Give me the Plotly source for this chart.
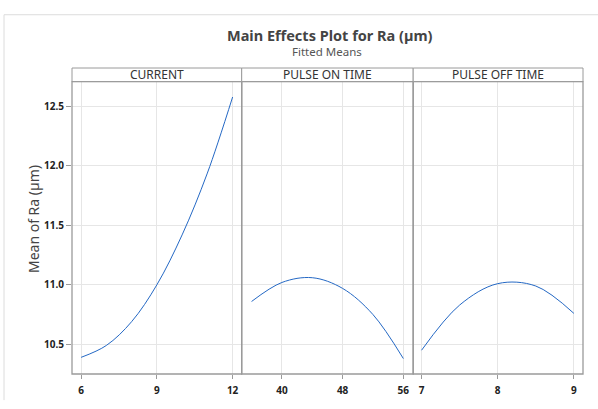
import plotly.graph_objects as go

# ---- data ----
current_x = [6, 7, 8, 9, 10, 11, 12]
current_y = [10.39, 10.49, 10.69, 11.00, 11.42, 11.94, 12.58]

pon_x = [36, 40, 44, 48, 52, 56]
pon_y = [10.86, 11.02, 11.06, 10.97, 10.75, 10.38]

poff_x = [7, 7.5, 8, 8.5, 9]
poff_y = [10.45, 10.83, 11.01, 10.99, 10.76]

panel_titles = ["CURRENT", "PULSE ON TIME", "PULSE OFF TIME"]
current_ticks = [6, 9, 12]
pon_ticks = [40, 48, 56]
poff_ticks = [7, 8, 9]
y_ticks = [10.5, 11.0, 11.5, 12.0, 12.5]

# ---- geometry ----
W, H = 598, 409
ML, MR, MT, MB = 72, 15, 68, 25
PW = W - ML - MR
PH = H - MT - MB
ytop = (PH - 14) / PH
doms = [[0, 0.3321], [0.3321, 0.6677], [0.6677, 1.0]]

LINE = "#2468c4"
GRID = "#e6e6e6"
BORDER = "#9a9a9a"
FONT = "Noto Sans"

def py(pix):
    return (PH - (pix - MT)) / PH

def px(pix):
    return (pix - ML) / PW

fig = go.Figure()
series = [(current_x, current_y), (pon_x, pon_y), (poff_x, poff_y)]
for i, (xs, ys) in enumerate(series):
    sfx = "" if i == 0 else str(i + 1)
    fig.add_trace(go.Scatter(x=xs, y=ys, mode="lines",
                             line=dict(color=LINE, width=1, shape="spline", smoothing=1.0),
                             xaxis="x" + sfx, yaxis="y" + sfx, showlegend=False,
                             hoverinfo="skip"))

TICKFONT = dict(family=FONT, size=10, color="#222", weight="bold")

def xax(dom, rng, ticks, anchor):
    return dict(domain=dom, range=rng, tickvals=ticks, ticktext=[str(t) for t in ticks],
                showgrid=True, gridcolor=GRID, gridwidth=1, zeroline=False,
                showline=False, ticks="outside", ticklen=4, tickcolor=BORDER,
                ticklabelstandoff=3,
                tickfont=TICKFONT, anchor=anchor, fixedrange=True)

yrange = [10.25, 12.71]
def yax(anchor, labels):
    d = dict(domain=[0, ytop], range=yrange, tickvals=y_ticks,
             ticktext=["%.1f" % v for v in y_ticks],
             showgrid=True, gridcolor=GRID, gridwidth=1, zeroline=False,
             showline=False, anchor=anchor, showticklabels=labels,
             ticks="outside" if labels else "", ticklen=5, tickcolor=BORDER,
             tickfont=TICKFONT, fixedrange=True)
    if anchor != "x":
        d["matches"] = "y"
    return d

fig.update_layout(
    width=W, height=H, margin=dict(l=ML, r=MR, t=MT, b=MB),
    paper_bgcolor="white", plot_bgcolor="white",
    xaxis=xax(doms[0], [5.64, 12.36], current_ticks, "y"),
    xaxis2=xax(doms[1], [34.7, 57.3], pon_ticks, "y2"),
    xaxis3=xax(doms[2], [6.89, 9.12], poff_ticks, "y3"),
    yaxis=yax("x", True),
    yaxis2=yax("x2", False),
    yaxis3=yax("x3", False),
)

shapes = []
# outer light frame (top and left edges visible in the reference)
shapes.append(dict(type="line", xref="paper", yref="paper",
                   x0=px(4), x1=px(W + 2), y0=py(13), y1=py(13),
                   line=dict(color="#dcdcdc", width=1), layer="below"))
shapes.append(dict(type="line", xref="paper", yref="paper",
                   x0=px(4), x1=px(4), y0=py(13), y1=py(H + 2),
                   line=dict(color="#dcdcdc", width=1), layer="below"))
annotations = []
for i, d in enumerate(doms):
    shapes.append(dict(type="rect", xref="paper", yref="paper", x0=d[0], x1=d[1], y0=0, y1=ytop,
                       line=dict(color=BORDER, width=1.3), fillcolor="rgba(0,0,0,0)"))
    shapes.append(dict(type="rect", xref="paper", yref="paper", x0=d[0], x1=d[1], y0=ytop, y1=1,
                       line=dict(color=BORDER, width=1), fillcolor="white"))
    annotations.append(dict(text=panel_titles[i], xref="paper", yref="paper",
                            x=(d[0] + d[1]) / 2, y=(1 + ytop) / 2, showarrow=False,
                            xanchor="center", yanchor="middle",
                            font=dict(family=FONT, size=12, color="#333")))

annotations.append(dict(text="Main Effects Plot for Ra (µm)", xref="paper", yref="paper",
                        x=px(330), y=py(34), showarrow=False,
                        xanchor="center", yanchor="middle",
                        font=dict(family=FONT, size=14.5, color="#444", weight="bold")))
annotations.append(dict(text="Fitted Means", xref="paper", yref="paper",
                        x=px(327), y=py(50.5), showarrow=False,
                        xanchor="center", yanchor="middle",
                        font=dict(family=FONT, size=11.5, color="#555")))
annotations.append(dict(text="Mean of Ra (µm)", xref="paper", yref="paper",
                        x=px(33), y=py(224), showarrow=False,
                        textangle=-90, xanchor="center", yanchor="middle",
                        font=dict(family=FONT, size=14, color="#444")))

fig.update_layout(shapes=shapes, annotations=annotations)
fig.write_html("out.html", config={"displayModeBar": False},
               post_script="document.body.style.margin='0';document.body.style.overflow='hidden';")
